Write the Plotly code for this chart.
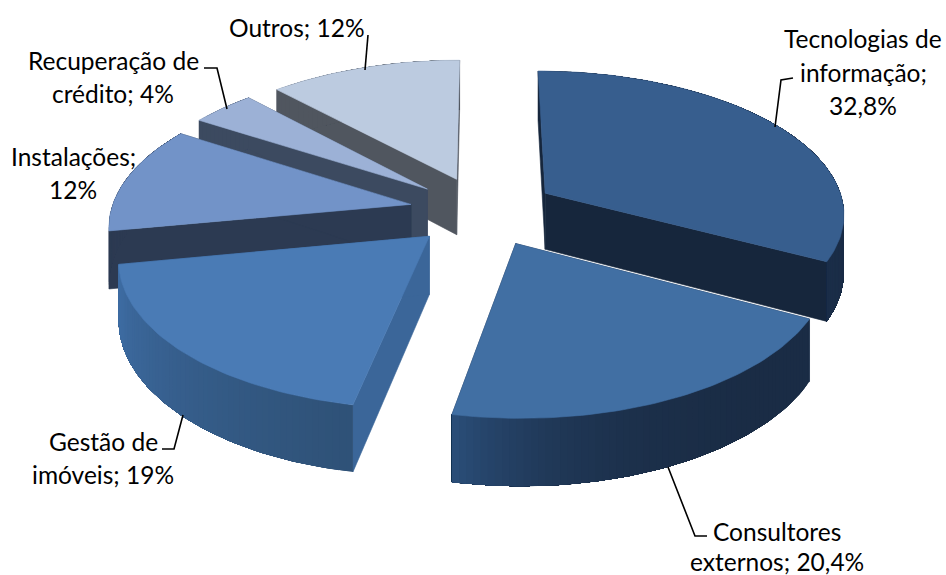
import numpy as np
import plotly.graph_objects as go

categories = ["Tecnologias de informação", "Consultores externos", "Gestão de imóveis",
              "Instalações", "Recuperação de crédito", "Outros"]
values = [32.8, 20.4, 19, 12, 4, 12]
label_lines = [["Tecnologias de", "informação;", "32,8%"], ["Consultores", "externos; 20,4%"],
               ["Gestão de", "imóveis; 19%"], ["Instalações;", "12%"],
               ["Recuperação de", "crédito; 4%"], ["Outros; 12%"]]

top_colors = ["#375e8e", "#416fa3", "#4a7bb5", "#7293c8", "#9cb1d6", "#bccbe0"]
start_face = ["#16263c", "#1b2f4b", "#3b6699", "#2c3a52", "#3c4a60", "#50565f"]
end_face = ["#16263c", "#1b2f4b", "#3b6699", "#2c3a52", "#3c4a60", "#50565f"]
wall_from = ["#16263c", "#1a2c45", "#2f5278", "#2c3a52", "#3c4a60", "#50565f"]
wall_to = ["#1a2d48", "#2b4f7a", "#3f6ea6", "#2c3a52", "#3c4a60", "#50565f"]
wall_gamma = [1, 4, 1.2, 1, 1, 1]
draw_order = [5, 4, 3, 0, 2, 1]

# layout of the pseudo-3D view, in page pixels
CX, CY, R, TILT, PERSP, EXPLODE, DEPTH = 483, 211, 300, 0.475, 0.131, 0.246, 57
label_pos = [(863, [38, 72, 105]), (777, [531, 561]), (103, [441, 474]),
             (73, [156, 189]), (113, [60, 93]), (297, [27])]
leaders = [[(793, 78), (781, 80), (775, 127)], [(707, 536), (695, 536), (668, 467)],
           [(162, 449), (174, 449), (183, 415)], [(204, 68), (217, 68), (227, 109)],
           [(368, 35), (365, 70)]]


def project(x, y, z=0.0):
    w = 1 + PERSP * y
    return CX + R * x / w, CY - R * TILT * y / w + DEPTH * z / w


def mix(a, b, t):
    ca = [int(a[i:i + 2], 16) for i in (1, 3, 5)]
    cb = [int(b[i:i + 2], 16) for i in (1, 3, 5)]
    return "rgb(%d,%d,%d)" % tuple(round(p + (q - p) * t) for p, q in zip(ca, cb))


fig = go.Figure()


def poly(points, color, edge=0.6):
    xs, ys = zip(*points)
    fig.add_trace(go.Scatter(x=list(xs) + [xs[0]], y=list(ys) + [ys[0]], mode="lines",
                             fill="toself", fillcolor=color,
                             line=dict(color=color, width=edge),
                             hoverinfo="skip", showlegend=False))


total = sum(values)
edges = np.concatenate([[0], np.cumsum(values)]) / total * 2 * np.pi

for i in draw_order:
    a0, a1 = edges[i], edges[i + 1]
    mid = (a0 + a1) / 2
    ox, oy = EXPLODE * np.sin(mid), EXPLODE * np.cos(mid)
    rim = lambda a: (ox + np.sin(a), oy + np.cos(a))
    poly([project(ox, oy), project(*rim(a0)), project(*rim(a0), 1), project(ox, oy, 1)], start_face[i])
    poly([project(ox, oy), project(*rim(a1)), project(*rim(a1), 1), project(ox, oy, 1)], end_face[i])
    steps = max(6, int((a1 - a0) / 0.02))
    angles = np.linspace(a0, a1, steps + 1)
    # each band runs on to the far end of the arc, so the next one paints over its seam
    for j in range(steps):
        arc = angles[j:]
        outline = [project(*rim(a)) for a in arc] + [project(*rim(a), 1) for a in arc[::-1]]
        poly(outline, mix(wall_from[i], wall_to[i], (j / steps) ** wall_gamma[i]), edge=0)
    poly([project(ox, oy)] + [project(*rim(a)) for a in angles], top_colors[i])

for path in leaders:
    xs, ys = zip(*path)
    fig.add_trace(go.Scatter(x=xs, y=ys, mode="lines", line=dict(color="#000000", width=1.6),
                             hoverinfo="skip", showlegend=False))

for lines, (x, ys) in zip(label_lines, label_pos):
    for text, y in zip(lines, ys):
        fig.add_annotation(x=x, y=y, text=text, showarrow=False, xanchor="center", yanchor="middle",
                           font=dict(family="Lato", size=24.5, color="#000000"))

fig.update_layout(width=946, height=575, margin=dict(l=0, r=0, t=0, b=0),
                  paper_bgcolor="white", plot_bgcolor="white", showlegend=False,
                  xaxis=dict(range=[0, 946], visible=False, fixedrange=True),
                  yaxis=dict(range=[575, 0], visible=False, fixedrange=True))
fig.write_html("out.html", config={"displayModeBar": False},
               post_script="document.body.style.margin='0';document.documentElement.style.overflow='hidden';")
